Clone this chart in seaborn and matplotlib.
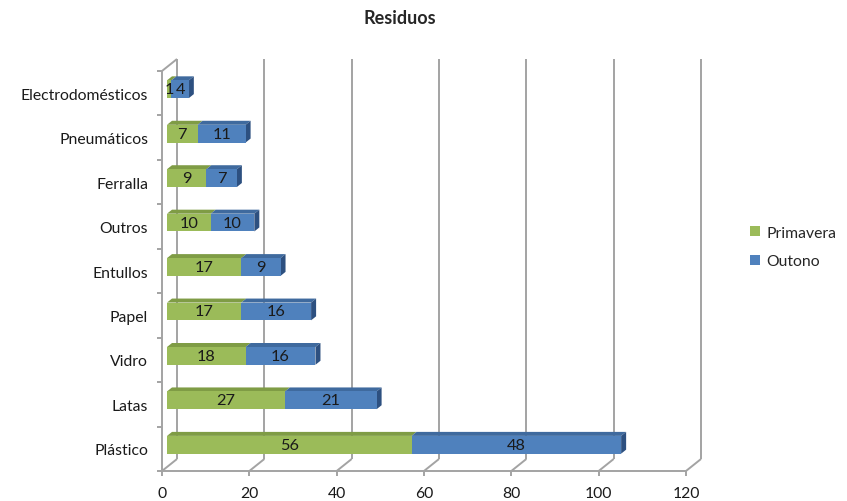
import matplotlib
matplotlib.use("Agg")
import matplotlib.pyplot as plt
from matplotlib.patches import Polygon, Patch
from matplotlib.transforms import ScaledTranslation
import seaborn as sns
import pandas as pd

categories = ["Electrodomésticos", "Pneumáticos", "Ferralla", "Outros", "Entullos",
              "Papel", "Vidro", "Latas", "Plástico"]
primavera = [1, 7, 9, 10, 17, 17, 18, 27, 56]
outono = [4, 11, 7, 10, 9, 16, 16, 21, 48]
x_ticks = [0, 20, 40, 60, 80, 100, 120]
series_names = ["Primavera", "Outono"]
title = "Residuos"

GREEN, GREEN_TOP = "#9BBB59", "#7F9C45"
BLUE, BLUE_TOP, BLUE_SIDE = "#4F81BD", "#3F6A9E", "#2D5080"
WALL = "#A3A3A3"
TXT = "#1a1a1a"
FS = 11.3

sns.set_style("white")
plt.rcParams["font.family"] = ["Lato", "DejaVu Sans"]

W, H, DPI = 847, 502, 100
fig = plt.figure(figsize=(W / DPI, H / DPI), dpi=DPI)
# axes sit on the bar plane (one third of the way into the 3-D box)
ax = fig.add_axes([167 / W, (H - 468) / H, 524 / W, 400 / H])

df = pd.DataFrame({"cat": categories, "p": primavera, "o": outono})
df["total"] = df["p"] + df["o"]

sns.barplot(data=df, x="total", y="cat", orient="h", color=BLUE, width=0.4,
            saturation=1, linewidth=0, ax=ax, zorder=3)
sns.barplot(data=df, x="p", y="cat", orient="h", color=GREEN, width=0.4,
            saturation=1, linewidth=0, ax=ax, zorder=3)

ax.set_xlim(0, 120)
ax.set_ylim(len(categories) - 0.5, -0.5)
ax.set_xlabel("")
ax.set_ylabel("")
for s in ax.spines.values():
    s.set_visible(False)
ax.grid(False)
ax.patch.set_alpha(0)


def px(dx, dy):
    """Convert a pixel offset (dx right, dy up) into data units."""
    p0 = ax.transData.transform((0, 0))
    x, y = ax.transData.inverted().transform((p0[0] + dx, p0[1] + dy))
    return x, y


FRONT = (-5, -4)   # front wall plane relative to bar plane
BACK = (10, 8)     # back wall plane
BAR = (5, 4)       # bar depth

fx, fy = px(*FRONT)
bx, by = px(*BACK)
ddx, ddy = px(*BAR)
y_top, y_bot = -0.5, len(categories) - 0.5

line_kw = dict(color=WALL, lw=1.4, clip_on=False, zorder=1, solid_capstyle="butt")
# left wall
ax.plot([fx, fx], [y_top + fy, y_bot + fy], **line_kw)
ax.plot([bx, bx], [y_top + by, y_bot + by], **line_kw)
ax.plot([fx, bx], [y_top + fy, y_top + by], **line_kw)
ax.plot([fx, bx], [y_bot + fy, y_bot + by], **line_kw)
# front floor edge
ax.plot([fx, x_ticks[-1] + fx], [y_bot + fy, y_bot + fy], **line_kw)
# back gridlines with their floor diagonals
tx, ty = px(0, -5)
for v in x_ticks[1:]:
    ax.plot([v + bx, v + bx], [y_top + by, y_bot + by], **line_kw)
    ax.plot([v + fx, v + bx], [y_bot + fy, y_bot + by], **line_kw)
for v in x_ticks:
    ax.plot([v + fx, v + fx], [y_bot + fy, y_bot + fy + ty], **line_kw)
# category dividers on the left axis
lx, _ = px(-5, 0)
for k in range(len(categories) + 1):
    yy = y_top + k + fy
    ax.plot([fx + lx, fx], [yy, yy], **line_kw)

# 3-D faces of the bars
half = 0.2
for i, (p, o) in enumerate(zip(primavera, outono)):
    t = p + o
    yt, yb = i - half, i + half
    for a, b, c in [(0, p, GREEN_TOP), (p, t, BLUE_TOP)]:
        ax.add_patch(Polygon([(a, yt), (b, yt), (b + ddx, yt + ddy), (a + ddx, yt + ddy)],
                             closed=True, facecolor=c, edgecolor="none", zorder=2.5,
                             clip_on=False))
    ax.add_patch(Polygon([(t, yt), (t, yb), (t + ddx, yb + ddy), (t + ddx, yt + ddy)],
                         closed=True, facecolor=BLUE_SIDE, edgecolor="none", zorder=2.5,
                         clip_on=False))
    ax.text(p / 2, i, str(p), ha="center", va="center", fontsize=FS + 0.5, color=TXT, zorder=5)
    ax.text(p + o / 2, i, str(o), ha="center", va="center", fontsize=FS + 0.5, color=TXT, zorder=5)

# tick labels placed on the front wall
ax.set_xticks(x_ticks)
ax.set_xticklabels([str(v) for v in x_ticks])
ax.tick_params(axis="both", length=0, labelsize=FS, colors=TXT)
ax.tick_params(axis="x", pad=11)
ax.tick_params(axis="y", pad=10)
shift = ScaledTranslation(FRONT[0] / DPI, FRONT[1] / DPI, fig.dpi_scale_trans)
for lab in ax.get_xticklabels() + ax.get_yticklabels():
    lab.set_transform(lab.get_transform() + shift)

fig.text(400 / W, 1 - 18 / H, title, ha="center", va="center", fontsize=13, fontweight="bold")

handles = [Patch(facecolor=GREEN, edgecolor="none"), Patch(facecolor=BLUE, edgecolor="none")]
fig.legend(handles, series_names, loc="center left", bbox_to_anchor=(736 / W, 1 - 248 / H),
           frameon=False, fontsize=FS, handlelength=0.6, handleheight=0.6,
           handletextpad=0.45, labelspacing=0.95)

fig.savefig("out.png", dpi=DPI)
